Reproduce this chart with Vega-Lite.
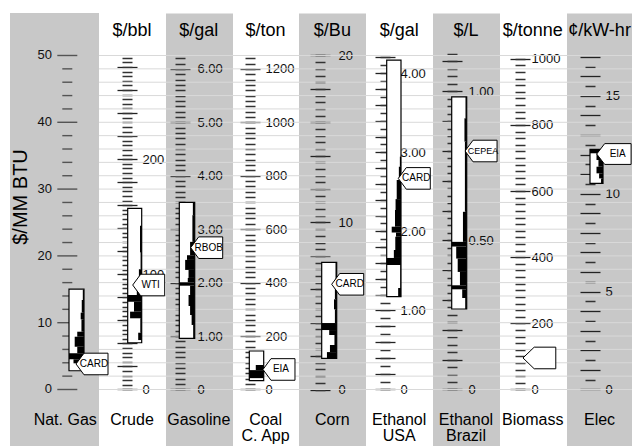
{
"$schema":"https://vega.github.io/schema/vega-lite/v6.json",
"background":"white",
"width":622,"height":433,
"autosize":"none",
"padding":{"left":10,"top":13,"right":0,"bottom":0},
"config":{"view":{"stroke":null},"font":"Liberation Sans"},
"datasets":{
"cols":[
{"idx":0,"id":"natgas","head":"","name1":"Nat. Gas","name2":"","ytitle":"$/MM BTU"},
{"idx":1,"id":"crude","head":"$/bbl","name1":"Crude","name2":""},
{"idx":2,"id":"gasoline","head":"$/gal","name1":"Gasoline","name2":""},
{"idx":3,"id":"coal","head":"$/ton","name1":"Coal","name2":"C. App"},
{"idx":4,"id":"corn","head":"$/Bu","name1":"Corn","name2":""},
{"idx":5,"id":"ethusa","head":"$/gal","name1":"Ethanol","name2":"USA"},
{"idx":6,"id":"ethbra","head":"$/L","name1":"Ethanol","name2":"Brazil"},
{"idx":7,"id":"biomass","head":"$/tonne","name1":"Biomass","name2":""},
{"idx":8,"id":"elec","head":"¢/kW-hr","name1":"Elec","name2":""}
],
"ngticks":[{"v":0},{"v":2},{"v":4},{"v":6},{"v":8},{"v":10},{"v":12},{"v":14},{"v":16},{"v":18},{"v":20},{"v":22},{"v":24},{"v":26},{"v":28},{"v":30},{"v":32},{"v":34},{"v":36},{"v":38},{"v":40},{"v":42},{"v":44},{"v":46},{"v":48},{"v":50}],
"boxes":[
{"id":"natgas","lo":2.81,"hi":15.04},
{"id":"crude","lo":7.0,"hi":27.1},
{"id":"gasoline","lo":7.66,"hi":28.0},
{"id":"coal","lo":1.32,"hi":5.76},
{"id":"corn","lo":4.67,"hi":19.04},
{"id":"ethusa","lo":13.9,"hi":49.3},
{"id":"ethbra","lo":12.05,"hi":43.8},
{"id":"elec","lo":30.87,"hi":35.96}
],
"hist":[
{"id":"natgas","y0":13.4,"y1":14.9,"w":0.08},{"id":"natgas","y0":11.5,"y1":13.4,"w":0.15},{"id":"natgas","y0":10.5,"y1":11.5,"w":0.22},{"id":"natgas","y0":8.65,"y1":10.5,"w":0.17},{"id":"natgas","y0":7.9,"y1":8.65,"w":0.45},{"id":"natgas","y0":6.4,"y1":7.9,"w":0.62},{"id":"natgas","y0":5.42,"y1":6.4,"w":0.45},{"id":"natgas","y0":4.52,"y1":5.42,"w":1.0},{"id":"natgas","y0":3.92,"y1":4.52,"w":0.7},
{"id":"crude","y0":20.5,"y1":24.5,"w":0.12},{"id":"crude","y0":18.0,"y1":20.5,"w":0.08},{"id":"crude","y0":16.2,"y1":18.0,"w":0.2},{"id":"crude","y0":14.15,"y1":16.2,"w":0.35},{"id":"crude","y0":13.15,"y1":14.15,"w":1.0},{"id":"crude","y0":11.65,"y1":13.15,"w":0.55},{"id":"crude","y0":10.66,"y1":11.65,"w":0.83},{"id":"crude","y0":8.5,"y1":10.66,"w":0.1},{"id":"crude","y0":7.4,"y1":8.5,"w":0.25},
{"id":"gasoline","y0":26.1,"y1":28.0,"w":0.12},{"id":"gasoline","y0":22.1,"y1":26.1,"w":0.15},{"id":"gasoline","y0":20.1,"y1":22.1,"w":0.3},{"id":"gasoline","y0":19.4,"y1":20.1,"w":0.5},{"id":"gasoline","y0":17.9,"y1":19.4,"w":0.62},{"id":"gasoline","y0":16.7,"y1":17.9,"w":0.4},{"id":"gasoline","y0":16.05,"y1":16.7,"w":0.45},{"id":"gasoline","y0":15.54,"y1":16.05,"w":1.0},{"id":"gasoline","y0":14.15,"y1":15.54,"w":0.3},{"id":"gasoline","y0":12.5,"y1":14.15,"w":0.4},{"id":"gasoline","y0":11.15,"y1":12.5,"w":0.3},{"id":"gasoline","y0":9.66,"y1":11.15,"w":0.2},{"id":"gasoline","y0":7.66,"y1":9.66,"w":0.1},
{"id":"coal","y0":2.9,"y1":3.67,"w":0.55},{"id":"coal","y0":1.7,"y1":2.9,"w":1.0},
{"id":"corn","y0":15.9,"y1":19.04,"w":0.08},{"id":"corn","y0":13.5,"y1":15.9,"w":0.12},{"id":"corn","y0":12.0,"y1":13.5,"w":0.18},{"id":"corn","y0":9.95,"y1":12.0,"w":0.12},{"id":"corn","y0":8.9,"y1":9.95,"w":1.0},{"id":"corn","y0":8.16,"y1":8.9,"w":0.5},{"id":"corn","y0":6.66,"y1":8.16,"w":0.15},{"id":"corn","y0":5.6,"y1":6.66,"w":0.45},{"id":"corn","y0":4.67,"y1":5.6,"w":0.65},
{"id":"ethusa","y0":33.35,"y1":34.85,"w":0.08},{"id":"ethusa","y0":31.36,"y1":33.35,"w":0.15},{"id":"ethusa","y0":28.5,"y1":31.36,"w":0.3},{"id":"ethusa","y0":26.87,"y1":28.5,"w":0.38},{"id":"ethusa","y0":24.37,"y1":26.87,"w":0.42},{"id":"ethusa","y0":23.5,"y1":24.37,"w":0.65},{"id":"ethusa","y0":22.87,"y1":23.5,"w":0.35},{"id":"ethusa","y0":20.88,"y1":22.87,"w":0.4},{"id":"ethusa","y0":19.69,"y1":20.88,"w":0.5},{"id":"ethusa","y0":18.64,"y1":19.69,"w":1.0},{"id":"ethusa","y0":15.19,"y1":18.64,"w":0.05},{"id":"ethusa","y0":13.9,"y1":15.19,"w":0.2},
{"id":"ethbra","y0":40.6,"y1":43.8,"w":0.08},{"id":"ethbra","y0":37.1,"y1":40.6,"w":0.15},{"id":"ethbra","y0":35.1,"y1":37.1,"w":0.12},{"id":"ethbra","y0":26.6,"y1":35.1,"w":0.12},{"id":"ethbra","y0":22.1,"y1":26.6,"w":0.25},{"id":"ethbra","y0":21.4,"y1":22.1,"w":1.0},{"id":"ethbra","y0":19.6,"y1":21.4,"w":0.7},{"id":"ethbra","y0":17.6,"y1":19.6,"w":0.6},{"id":"ethbra","y0":15.6,"y1":17.6,"w":0.45},{"id":"ethbra","y0":15.0,"y1":15.6,"w":1.0},{"id":"ethbra","y0":13.7,"y1":15.0,"w":0.3},{"id":"ethbra","y0":12.05,"y1":13.7,"w":0.1},
{"id":"elec","y0":35.36,"y1":35.96,"w":1.0},{"id":"elec","y0":34.35,"y1":35.36,"w":0.5},{"id":"elec","y0":33.35,"y1":34.35,"w":0.35},{"id":"elec","y0":32.36,"y1":33.35,"w":0.5},{"id":"elec","y0":31.6,"y1":32.36,"w":0.3},{"id":"elec","y0":30.87,"y1":31.6,"w":0.15}
],
"callouts":[
{"id":"natgas","y":3.82,"label":"CARD"},
{"id":"crude","y":15.64,"label":"WTI"},
{"id":"gasoline","y":21.23,"label":"RBOB"},
{"id":"coal","y":3.0,"label":"EIA"},
{"id":"corn","y":15.75,"label":"CARD"},
{"id":"ethusa","y":31.6,"label":"CARD"},
{"id":"ethbra","y":35.7,"label":"CEPEA"},
{"id":"biomass","y":4.72,"label":""},
{"id":"elec","y":35.25,"label":"EIA"}
]
},
"layer":[
{"data":{"name":"cols"},"transform":[{"filter":"datum.idx==0"}],"mark":{"type":"point","opacity":0},
"encoding":{
"x":{"datum":0,"type":"quantitative","scale":{"domain":[-0.8266,8.486],"nice":false,"zero":false},"axis":{"orient":"bottom","values":[2,4,6,8],"grid":true,"gridWidth":67,"gridColor":"#c8c8c8","gridCap":"butt","ticks":false,"labels":false,"domain":false,"title":null}},
"y":{"datum":0,"type":"quantitative","scale":{"domain":[-8.458,56.36],"nice":false,"zero":false},"axis":null}}},
{"data":{"name":"ngticks"},"mark":{"type":"rule","color":"#d9d9d9","strokeWidth":1},
"encoding":{"y":{"field":"v","type":"quantitative","scale":{"domain":[-8.458,56.36],"nice":false,"zero":false},"axis":null}}},
{"data":{"name":"cols"},"transform":[{"filter":"datum.idx==0"}],"mark":{"type":"rect","fill":"#c8c8c8"},
"encoding":{"x":{"datum":4.9333,"type":"quantitative","scale":{"domain":[-36.533,4.9333],"reverse":true,"nice":false,"zero":false},"axis":null},"x2":{"datum":-1.0},"y":{"datum":-8.458,"type":"quantitative","scale":{"domain":[-8.458,56.36],"nice":false,"zero":false},"axis":null},"y2":{"datum":56.36}}},
{"data":{"name":"ngticks"},"mark":{"type":"tick","orient":"horizontal","thickness":1.4,"color":"#222"},
"encoding":{"x":{"datum":1.113,"type":"quantitative","scale":{"domain":[-36.533,4.9333],"reverse":true,"nice":false,"zero":false},"axis":null},"y":{"field":"v","type":"quantitative","scale":{"domain":[-8.458,56.36],"nice":false,"zero":false},"axis":null},"size":{"condition":{"test":"datum.v % 10 == 0","value":20},"value":10}}},
{"data":{"name":"ngticks"},"transform":[{"filter":"datum.v % 10 == 0"}],"mark":{"type":"text","fontSize":13,"align":"right","baseline":"middle","color":"#111"},
"encoding":{"x":{"datum":2.133,"type":"quantitative","scale":{"domain":[-36.533,4.9333],"reverse":true,"nice":false,"zero":false},"axis":null},"y":{"field":"v","type":"quantitative","scale":{"domain":[-8.458,56.36],"nice":false,"zero":false},"axis":null},"text":{"field":"v"}}},
{"data":{"name":"cols"},"transform":[{"filter":"datum.idx==0"}],"mark":{"type":"text","fontSize":20,"angle":270,"baseline":"middle","align":"center"},
"encoding":{"x":{"datum":4.2,"type":"quantitative","scale":{"domain":[-36.533,4.9333],"reverse":true,"nice":false,"zero":false},"axis":null},"y":{"datum":28.82,"type":"quantitative","scale":{"domain":[-8.458,56.36],"nice":false,"zero":false},"axis":null},"text":{"field":"ytitle"}}},

{"data":{"name":"cols"},"transform":[{"filter":"datum.idx==1"}],"mark":{"type":"point","opacity":0},
"encoding":{"y":{"datum":0,"type":"quantitative","scale":{"domain":[-49.06,326.89],"nice":false,"zero":false},
"axis":{"orient":"right","offset":-515,"values":[0,20,40,60,80,100,120,140,160,180,200,220,240,260,280],"format":"d","labelExpr":"datum.value % 100 === 0 ? datum.label : ''","tickSize":20,"tickWidth":1.3,"tickColor":"#222","labelPadding":5,"labelFontSize":13,"labelColor":"#111","labelOverlap":false,"labelFlush":false,"labelBound":false,"domain":false,"grid":false,"title":null}}}},
{"data":{"name":"cols"},"transform":[{"filter":"datum.idx==1"}],"mark":{"type":"point","opacity":0},
"encoding":{"y":{"datum":0,"type":"quantitative","scale":{"domain":[-49.06,326.89],"nice":false,"zero":false},
"axis":{"orient":"right","offset":-510,"values":[0,4,8,12,16,20,24,28,32,36,40,44,48,52,56,60,64,68,72,76,80,84,88,92,96,100,104,108,112,116,120,124,128,132,136,140,144,148,152,156,160,164,168,172,176,180,184,188,192,196,200,204,208,212,216,220,224,228,232,236,240,244,248,252,256,260,264,268,272,276,280,284,288],"tickSize":10,"tickWidth":1.5,"tickColor":"#333","labels":false,"domain":false,"grid":false,"title":null}}}},

{"data":{"name":"cols"},"transform":[{"filter":"datum.idx==2"}],"mark":{"type":"point","opacity":0},
"encoding":{"y":{"datum":0,"type":"quantitative","scale":{"domain":[-1.0573,7.045],"nice":false,"zero":false},
"axis":{"orient":"right","offset":-462,"values":[0,1,2,3,4,5,6],"labelExpr":"datum.value == 0 ? '0' : format(datum.value, '.2f')","tickSize":20,"tickWidth":1.3,"tickColor":"#222","labelPadding":7,"labelFontSize":13,"labelColor":"#111","labelOverlap":false,"labelFlush":false,"labelBound":false,"domain":false,"grid":false,"title":null}}}},
{"data":{"name":"cols"},"transform":[{"filter":"datum.idx==2"}],"mark":{"type":"point","opacity":0},
"encoding":{"y":{"datum":0,"type":"quantitative","scale":{"domain":[-1.0573,7.045],"nice":false,"zero":false},
"axis":{"orient":"right","offset":-457,"values":[0,0.1,0.2,0.3,0.4,0.5,0.6,0.7,0.8,0.9,1,1.1,1.2,1.3,1.4,1.5,1.6,1.7,1.8,1.9,2,2.1,2.2,2.3,2.4,2.5,2.6,2.7,2.8,2.9,3,3.1,3.2,3.3,3.4,3.5,3.6,3.7,3.8,3.9,4,4.1,4.2,4.3,4.4,4.5,4.6,4.7,4.8,4.9,5,5.1,5.2,5.3,5.4,5.5,5.6,5.7,5.8,5.9,6,6.1,6.2],"tickSize":10,"tickWidth":1.5,"tickColor":"#333","labels":false,"domain":false,"grid":false,"title":null}}}},

{"data":{"name":"cols"},"transform":[{"filter":"datum.idx==3"}],"mark":{"type":"point","opacity":0},
"encoding":{"y":{"datum":0,"type":"quantitative","scale":{"domain":[-211.45,1409.0],"nice":false,"zero":false},
"axis":{"orient":"right","offset":-392,"values":[0,200,400,600,800,1000,1200],"format":"d","tickSize":20,"tickWidth":1.3,"tickColor":"#222","labelPadding":5,"labelFontSize":13,"labelColor":"#111","labelOverlap":false,"labelFlush":false,"labelBound":false,"domain":false,"grid":false,"title":null}}}},
{"data":{"name":"cols"},"transform":[{"filter":"datum.idx==3"}],"mark":{"type":"point","opacity":0},
"encoding":{"y":{"datum":0,"type":"quantitative","scale":{"domain":[-211.45,1409.0],"nice":false,"zero":false},
"axis":{"orient":"right","offset":-387,"values":[0,20,40,60,80,100,120,140,160,180,200,220,240,260,280,300,320,340,360,380,400,420,440,460,480,500,520,540,560,580,600,620,640,660,680,700,720,740,760,780,800,820,840,860,880,900,920,940,960,980,1000,1020,1040,1060,1080,1100,1120,1140,1160,1180,1200,1220,1240],"tickSize":10,"tickWidth":1.5,"tickColor":"#333","labels":false,"domain":false,"grid":false,"title":null}}}},

{"data":{"name":"cols"},"transform":[{"filter":"datum.idx==4"}],"mark":{"type":"point","opacity":0},
"encoding":{"y":{"datum":0,"type":"quantitative","scale":{"domain":[-3.383,22.544],"nice":false,"zero":false},
"axis":{"orient":"right","offset":-322,"values":[0,2,4,6,8,10,12,14,16,18,20],"labelExpr":"datum.value % 10 === 0 ? datum.label : ''","tickSize":20,"tickWidth":1.3,"tickColor":"#222","labelPadding":8,"labelFontSize":13,"labelColor":"#111","labelOverlap":false,"labelFlush":false,"labelBound":false,"domain":false,"grid":false,"title":null}}}},
{"data":{"name":"cols"},"transform":[{"filter":"datum.idx==4"}],"mark":{"type":"point","opacity":0},
"encoding":{"y":{"datum":0,"type":"quantitative","scale":{"domain":[-3.383,22.544],"nice":false,"zero":false},
"axis":{"orient":"right","offset":-317,"values":[0,0.4,0.8,1.2,1.6,2,2.4,2.8,3.2,3.6,4,4.4,4.8,5.2,5.6,6,6.4,6.8,7.2,7.6,8,8.4,8.8,9.2,9.6,10,10.4,10.8,11.2,11.6,12,12.4,12.8,13.2,13.6,14,14.4,14.8,15.2,15.6,16,16.4,16.8,17.2,17.6,18,18.4,18.8,19.2,19.6,20],"tickSize":10,"tickWidth":1.5,"tickColor":"#333","labels":false,"domain":false,"grid":false,"title":null}}}},

{"data":{"name":"cols"},"transform":[{"filter":"datum.idx==5"}],"mark":{"type":"point","opacity":0},
"encoding":{"y":{"datum":0,"type":"quantitative","scale":{"domain":[-0.7147,4.7624],"nice":false,"zero":false},
"axis":{"orient":"right","offset":-257,"values":[0,0.2,0.4,0.6,0.8,1,1.2,1.4,1.6,1.8,2,2.2,2.4,2.6,2.8,3,3.2,3.4,3.6,3.8,4,4.2],"labelExpr":"datum.value == 0 ? '0' : (datum.value == 1 || datum.value == 2 || datum.value == 3 || datum.value == 4 ? format(datum.value, '.2f') : '')","tickSize":20,"tickWidth":1.3,"tickColor":"#222","labelPadding":5,"labelFontSize":13,"labelColor":"#111","labelOverlap":false,"labelFlush":false,"labelBound":false,"domain":false,"grid":false,"title":null}}}},
{"data":{"name":"cols"},"transform":[{"filter":"datum.idx==5"}],"mark":{"type":"point","opacity":0},
"encoding":{"y":{"datum":0,"type":"quantitative","scale":{"domain":[-0.7147,4.7624],"nice":false,"zero":false},
"axis":{"orient":"right","offset":-252,"values":[0,0.1,0.2,0.3,0.4,0.5,0.6,0.7,0.8,0.9,1,1.1,1.2,1.3,1.4,1.5,1.6,1.7,1.8,1.9,2,2.1,2.2,2.3,2.4,2.5,2.6,2.7,2.8,2.9,3,3.1,3.2,3.3,3.4,3.5,3.6,3.7,3.8,3.9,4,4.1,4.2],"tickSize":10,"tickWidth":1.5,"tickColor":"#333","labels":false,"domain":false,"grid":false,"title":null}}}},

{"data":{"name":"cols"},"transform":[{"filter":"datum.idx==6"}],"mark":{"type":"point","opacity":0},
"encoding":{"y":{"datum":0,"type":"quantitative","scale":{"domain":[-0.18946,1.26246],"nice":false,"zero":false},
"axis":{"orient":"right","offset":-190,"values":[0,0.1,0.2,0.3,0.4,0.5,0.6,0.7,0.8,0.9,1,1.1],"labelExpr":"datum.value == 0 ? '0' : (datum.value == 0.5 || datum.value == 1 ? format(datum.value, '.2f') : '')","tickSize":20,"tickWidth":1.3,"tickColor":"#222","labelPadding":6,"labelFontSize":13,"labelColor":"#111","labelOverlap":false,"labelFlush":false,"labelBound":false,"domain":false,"grid":false,"title":null}}}},
{"data":{"name":"cols"},"transform":[{"filter":"datum.idx==6"}],"mark":{"type":"point","opacity":0},
"encoding":{"y":{"datum":0,"type":"quantitative","scale":{"domain":[-0.18946,1.26246],"nice":false,"zero":false},
"axis":{"orient":"right","offset":-185,"values":[0,0.025,0.05,0.075,0.1,0.125,0.15,0.175,0.2,0.225,0.25,0.275,0.3,0.325,0.35,0.375,0.4,0.425,0.45,0.475,0.5,0.525,0.55,0.575,0.6,0.625,0.65,0.675,0.7,0.725,0.75,0.775,0.8,0.825,0.85,0.875,0.9,0.925,0.95,0.975,1,1.025,1.05,1.075,1.1,1.125],"tickSize":10,"tickWidth":1.5,"tickColor":"#333","labels":false,"domain":false,"grid":false,"title":null}}}},

{"data":{"name":"cols"},"transform":[{"filter":"datum.idx==7"}],"mark":{"type":"point","opacity":0},
"encoding":{"y":{"datum":0,"type":"quantitative","scale":{"domain":[-170.85,1138.47],"nice":false,"zero":false},
"axis":{"orient":"right","offset":-122,"values":[0,200,400,600,800,1000],"format":"d","tickSize":20,"tickWidth":1.3,"tickColor":"#222","labelPadding":1,"labelFontSize":13,"labelColor":"#111","labelOverlap":false,"labelFlush":false,"labelBound":false,"domain":false,"grid":false,"title":null}}}},
{"data":{"name":"cols"},"transform":[{"filter":"datum.idx==7"}],"mark":{"type":"point","opacity":0},
"encoding":{"y":{"datum":0,"type":"quantitative","scale":{"domain":[-170.85,1138.47],"nice":false,"zero":false},
"axis":{"orient":"right","offset":-117,"values":[0,20,40,60,80,100,120,140,160,180,200,220,240,260,280,300,320,340,360,380,400,420,440,460,480,500,520,540,560,580,600,620,640,660,680,700,720,740,760,780,800,820,840,860,880,900,920,940,960,980,1000],"tickSize":10,"tickWidth":1.5,"tickColor":"#333","labels":false,"domain":false,"grid":false,"title":null}}}},

{"data":{"name":"cols"},"transform":[{"filter":"datum.idx==8"}],"mark":{"type":"point","opacity":0},
"encoding":{"y":{"datum":0,"type":"quantitative","scale":{"domain":[-2.8867,19.2357],"nice":false,"zero":false},
"axis":{"orient":"right","offset":-52,"values":[0,1,2,3,4,5,6,7,8,9,10,11,12,13,14,15,16,17],"labelExpr":"datum.value % 5 === 0 ? datum.label : ''","tickSize":20,"tickWidth":1.3,"tickColor":"#222","labelPadding":5,"labelFontSize":13,"labelColor":"#111","labelOverlap":false,"labelFlush":false,"labelBound":false,"domain":false,"grid":false,"title":null}}}},
{"data":{"name":"cols"},"transform":[{"filter":"datum.idx==8"}],"mark":{"type":"point","opacity":0},
"encoding":{"y":{"datum":0,"type":"quantitative","scale":{"domain":[-2.8867,19.2357],"nice":false,"zero":false},
"axis":{"orient":"right","offset":-47,"values":[0.5,1.5,2.5,3.5,4.5,5.5,6.5,7.5,8.5,9.5,10.5,11.5,12.5,13.5,14.5,15.5,16.5],"tickSize":10,"tickWidth":1.5,"tickColor":"#333","labels":false,"domain":false,"grid":false,"title":null}}}},

{"data":{"name":"boxes"},"transform":[{"filter":"datum.id=='natgas'"}],"mark":{"type":"rect","fill":"white","stroke":"black","strokeWidth":1.2},
"encoding":{"x":{"datum":0,"type":"quantitative","scale":{"domain":[-36.533,4.9333],"reverse":true,"nice":false,"zero":false},"axis":null},"x2":{"datum":1},"y":{"field":"lo","type":"quantitative","scale":{"domain":[-8.458,56.36],"nice":false,"zero":false},"axis":null},"y2":{"field":"hi"}}},
{"data":{"name":"hist"},"transform":[{"filter":"datum.id=='natgas'"}],"mark":{"type":"rect","fill":"black"},
"encoding":{"x":{"field":"w","type":"quantitative","scale":{"domain":[-36.533,4.9333],"reverse":true,"nice":false,"zero":false},"axis":null},"x2":{"datum":0},"y":{"field":"y0","type":"quantitative","scale":{"domain":[-8.458,56.36],"nice":false,"zero":false},"axis":null},"y2":{"field":"y1"}}},
{"data":{"name":"callouts"},"transform":[{"filter":"datum.id=='natgas'"}],"mark":{"type":"point","shape":"M0,0L1,-1.35L4,-1.35L4,1.35L1,1.35Z","size":256,"filled":true,"fill":"white","stroke":"black","strokeWidth":1,"opacity":1},
"encoding":{"x":{"datum":0.533,"type":"quantitative","scale":{"domain":[-36.533,4.9333],"reverse":true,"nice":false,"zero":false},"axis":null},"y":{"field":"y","type":"quantitative","scale":{"domain":[-8.458,56.36],"nice":false,"zero":false},"axis":null}}},
{"data":{"name":"callouts"},"transform":[{"filter":"datum.id=='natgas'"}],"mark":{"type":"text","fontSize":10,"dx":18,"align":"center","baseline":"middle"},
"encoding":{"x":{"datum":0.533,"type":"quantitative","scale":{"domain":[-36.533,4.9333],"reverse":true,"nice":false,"zero":false},"axis":null},"y":{"field":"y","type":"quantitative","scale":{"domain":[-8.458,56.36],"nice":false,"zero":false},"axis":null},"text":{"field":"label"}}},

{"data":{"name":"boxes"},"transform":[{"filter":"datum.id=='crude'"}],"mark":{"type":"rect","fill":"white","stroke":"black","strokeWidth":1.2},
"encoding":{"x":{"datum":0,"type":"quantitative","scale":{"domain":[-35.021,9.407],"reverse":true,"nice":false,"zero":false},"axis":null},"x2":{"datum":1},"y":{"field":"lo","type":"quantitative","scale":{"domain":[-8.458,56.36],"nice":false,"zero":false},"axis":null},"y2":{"field":"hi"}}},
{"data":{"name":"hist"},"transform":[{"filter":"datum.id=='crude'"}],"mark":{"type":"rect","fill":"black"},
"encoding":{"x":{"field":"w","type":"quantitative","scale":{"domain":[-35.021,9.407],"reverse":true,"nice":false,"zero":false},"axis":null},"x2":{"datum":0},"y":{"field":"y0","type":"quantitative","scale":{"domain":[-8.458,56.36],"nice":false,"zero":false},"axis":null},"y2":{"field":"y1"}}},
{"data":{"name":"callouts"},"transform":[{"filter":"datum.id=='crude'"}],"mark":{"type":"point","shape":"M0,0L1,-1.35L4,-1.35L4,1.35L1,1.35Z","size":256,"filled":true,"fill":"white","stroke":"black","strokeWidth":1,"opacity":1},
"encoding":{"x":{"datum":0.643,"type":"quantitative","scale":{"domain":[-35.021,9.407],"reverse":true,"nice":false,"zero":false},"axis":null},"y":{"field":"y","type":"quantitative","scale":{"domain":[-8.458,56.36],"nice":false,"zero":false},"axis":null}}},
{"data":{"name":"callouts"},"transform":[{"filter":"datum.id=='crude'"}],"mark":{"type":"text","fontSize":10,"dx":18,"align":"center","baseline":"middle"},
"encoding":{"x":{"datum":0.643,"type":"quantitative","scale":{"domain":[-35.021,9.407],"reverse":true,"nice":false,"zero":false},"axis":null},"y":{"field":"y","type":"quantitative","scale":{"domain":[-8.458,56.36],"nice":false,"zero":false},"axis":null},"text":{"field":"label"}}},

{"data":{"name":"boxes"},"transform":[{"filter":"datum.id=='gasoline'"}],"mark":{"type":"rect","fill":"white","stroke":"black","strokeWidth":1.2},
"encoding":{"x":{"datum":0,"type":"quantitative","scale":{"domain":[-28.396,11.994],"reverse":true,"nice":false,"zero":false},"axis":null},"x2":{"datum":1},"y":{"field":"lo","type":"quantitative","scale":{"domain":[-8.458,56.36],"nice":false,"zero":false},"axis":null},"y2":{"field":"hi"}}},
{"data":{"name":"hist"},"transform":[{"filter":"datum.id=='gasoline'"}],"mark":{"type":"rect","fill":"black"},
"encoding":{"x":{"field":"w","type":"quantitative","scale":{"domain":[-28.396,11.994],"reverse":true,"nice":false,"zero":false},"axis":null},"x2":{"datum":0},"y":{"field":"y0","type":"quantitative","scale":{"domain":[-8.458,56.36],"nice":false,"zero":false},"axis":null},"y2":{"field":"y1"}}},
{"data":{"name":"callouts"},"transform":[{"filter":"datum.id=='gasoline'"}],"mark":{"type":"point","shape":"M0,0L1,-1.35L4,-1.35L4,1.35L1,1.35Z","size":256,"filled":true,"fill":"white","stroke":"black","strokeWidth":1,"opacity":1},
"encoding":{"x":{"datum":0.26,"type":"quantitative","scale":{"domain":[-28.396,11.994],"reverse":true,"nice":false,"zero":false},"axis":null},"y":{"field":"y","type":"quantitative","scale":{"domain":[-8.458,56.36],"nice":false,"zero":false},"axis":null}}},
{"data":{"name":"callouts"},"transform":[{"filter":"datum.id=='gasoline'"}],"mark":{"type":"text","fontSize":10,"dx":18,"align":"center","baseline":"middle"},
"encoding":{"x":{"datum":0.26,"type":"quantitative","scale":{"domain":[-28.396,11.994],"reverse":true,"nice":false,"zero":false},"axis":null},"y":{"field":"y","type":"quantitative","scale":{"domain":[-8.458,56.36],"nice":false,"zero":false},"axis":null},"text":{"field":"label"}}},

{"data":{"name":"boxes"},"transform":[{"filter":"datum.id=='coal'"}],"mark":{"type":"rect","fill":"white","stroke":"black","strokeWidth":1.2},
"encoding":{"x":{"datum":0,"type":"quantitative","scale":{"domain":[-25.576,17.618],"reverse":true,"nice":false,"zero":false},"axis":null},"x2":{"datum":1},"y":{"field":"lo","type":"quantitative","scale":{"domain":[-8.458,56.36],"nice":false,"zero":false},"axis":null},"y2":{"field":"hi"}}},
{"data":{"name":"hist"},"transform":[{"filter":"datum.id=='coal'"}],"mark":{"type":"rect","fill":"black"},
"encoding":{"x":{"field":"w","type":"quantitative","scale":{"domain":[-25.576,17.618],"reverse":true,"nice":false,"zero":false},"axis":null},"x2":{"datum":0},"y":{"field":"y0","type":"quantitative","scale":{"domain":[-8.458,56.36],"nice":false,"zero":false},"axis":null},"y2":{"field":"y1"}}},
{"data":{"name":"callouts"},"transform":[{"filter":"datum.id=='coal'"}],"mark":{"type":"point","shape":"M0,0L1,-1.35L4,-1.35L4,1.35L1,1.35Z","size":256,"filled":true,"fill":"white","stroke":"black","strokeWidth":1,"opacity":1},
"encoding":{"x":{"datum":0.05,"type":"quantitative","scale":{"domain":[-25.576,17.618],"reverse":true,"nice":false,"zero":false},"axis":null},"y":{"field":"y","type":"quantitative","scale":{"domain":[-8.458,56.36],"nice":false,"zero":false},"axis":null}}},
{"data":{"name":"callouts"},"transform":[{"filter":"datum.id=='coal'"}],"mark":{"type":"text","fontSize":10,"dx":18,"align":"center","baseline":"middle"},
"encoding":{"x":{"datum":0.05,"type":"quantitative","scale":{"domain":[-25.576,17.618],"reverse":true,"nice":false,"zero":false},"axis":null},"y":{"field":"y","type":"quantitative","scale":{"domain":[-8.458,56.36],"nice":false,"zero":false},"axis":null},"text":{"field":"label"}}},

{"data":{"name":"boxes"},"transform":[{"filter":"datum.id=='corn'"}],"mark":{"type":"rect","fill":"white","stroke":"black","strokeWidth":1.2},
"encoding":{"x":{"datum":0,"type":"quantitative","scale":{"domain":[-19.687,21.78],"reverse":true,"nice":false,"zero":false},"axis":null},"x2":{"datum":1},"y":{"field":"lo","type":"quantitative","scale":{"domain":[-8.458,56.36],"nice":false,"zero":false},"axis":null},"y2":{"field":"hi"}}},
{"data":{"name":"hist"},"transform":[{"filter":"datum.id=='corn'"}],"mark":{"type":"rect","fill":"black"},
"encoding":{"x":{"field":"w","type":"quantitative","scale":{"domain":[-19.687,21.78],"reverse":true,"nice":false,"zero":false},"axis":null},"x2":{"datum":0},"y":{"field":"y0","type":"quantitative","scale":{"domain":[-8.458,56.36],"nice":false,"zero":false},"axis":null},"y2":{"field":"y1"}}},
{"data":{"name":"callouts"},"transform":[{"filter":"datum.id=='corn'"}],"mark":{"type":"point","shape":"M0,0L1,-1.35L4,-1.35L4,1.35L1,1.35Z","size":256,"filled":true,"fill":"white","stroke":"black","strokeWidth":1,"opacity":1},
"encoding":{"x":{"datum":0.333,"type":"quantitative","scale":{"domain":[-19.687,21.78],"reverse":true,"nice":false,"zero":false},"axis":null},"y":{"field":"y","type":"quantitative","scale":{"domain":[-8.458,56.36],"nice":false,"zero":false},"axis":null}}},
{"data":{"name":"callouts"},"transform":[{"filter":"datum.id=='corn'"}],"mark":{"type":"text","fontSize":10,"dx":18,"align":"center","baseline":"middle"},
"encoding":{"x":{"datum":0.333,"type":"quantitative","scale":{"domain":[-19.687,21.78],"reverse":true,"nice":false,"zero":false},"axis":null},"y":{"field":"y","type":"quantitative","scale":{"domain":[-8.458,56.36],"nice":false,"zero":false},"axis":null},"text":{"field":"label"}}},

{"data":{"name":"boxes"},"transform":[{"filter":"datum.id=='ethusa'"}],"mark":{"type":"rect","fill":"white","stroke":"black","strokeWidth":1.2},
"encoding":{"x":{"datum":0,"type":"quantitative","scale":{"domain":[-16.154,27.343],"reverse":true,"nice":false,"zero":false},"axis":null},"x2":{"datum":1},"y":{"field":"lo","type":"quantitative","scale":{"domain":[-8.458,56.36],"nice":false,"zero":false},"axis":null},"y2":{"field":"hi"}}},
{"data":{"name":"hist"},"transform":[{"filter":"datum.id=='ethusa'"}],"mark":{"type":"rect","fill":"black"},
"encoding":{"x":{"field":"w","type":"quantitative","scale":{"domain":[-16.154,27.343],"reverse":true,"nice":false,"zero":false},"axis":null},"x2":{"datum":0},"y":{"field":"y0","type":"quantitative","scale":{"domain":[-8.458,56.36],"nice":false,"zero":false},"axis":null},"y2":{"field":"y1"}}},
{"data":{"name":"callouts"},"transform":[{"filter":"datum.id=='ethusa'"}],"mark":{"type":"point","shape":"M0,0L1,-1.35L4,-1.35L4,1.35L1,1.35Z","size":256,"filled":true,"fill":"white","stroke":"black","strokeWidth":1,"opacity":1},
"encoding":{"x":{"datum":0.19,"type":"quantitative","scale":{"domain":[-16.154,27.343],"reverse":true,"nice":false,"zero":false},"axis":null},"y":{"field":"y","type":"quantitative","scale":{"domain":[-8.458,56.36],"nice":false,"zero":false},"axis":null}}},
{"data":{"name":"callouts"},"transform":[{"filter":"datum.id=='ethusa'"}],"mark":{"type":"text","fontSize":10,"dx":18,"align":"center","baseline":"middle"},
"encoding":{"x":{"datum":0.19,"type":"quantitative","scale":{"domain":[-16.154,27.343],"reverse":true,"nice":false,"zero":false},"axis":null},"y":{"field":"y","type":"quantitative","scale":{"domain":[-8.458,56.36],"nice":false,"zero":false},"axis":null},"text":{"field":"label"}}},

{"data":{"name":"boxes"},"transform":[{"filter":"datum.id=='ethbra'"}],"mark":{"type":"rect","fill":"white","stroke":"black","strokeWidth":1.2},
"encoding":{"x":{"datum":0,"type":"quantitative","scale":{"domain":[-11.02,30.447],"reverse":true,"nice":false,"zero":false},"axis":null},"x2":{"datum":1},"y":{"field":"lo","type":"quantitative","scale":{"domain":[-8.458,56.36],"nice":false,"zero":false},"axis":null},"y2":{"field":"hi"}}},
{"data":{"name":"hist"},"transform":[{"filter":"datum.id=='ethbra'"}],"mark":{"type":"rect","fill":"black"},
"encoding":{"x":{"field":"w","type":"quantitative","scale":{"domain":[-11.02,30.447],"reverse":true,"nice":false,"zero":false},"axis":null},"x2":{"datum":0},"y":{"field":"y0","type":"quantitative","scale":{"domain":[-8.458,56.36],"nice":false,"zero":false},"axis":null},"y2":{"field":"y1"}}},
{"data":{"name":"callouts"},"transform":[{"filter":"datum.id=='ethbra'"}],"mark":{"type":"point","shape":"M0,0L1,-1.35L4,-1.35L4,1.35L1,1.35Z","size":256,"filled":true,"fill":"white","stroke":"black","strokeWidth":1,"opacity":1},
"encoding":{"x":{"datum":0.11,"type":"quantitative","scale":{"domain":[-11.02,30.447],"reverse":true,"nice":false,"zero":false},"axis":null},"y":{"field":"y","type":"quantitative","scale":{"domain":[-8.458,56.36],"nice":false,"zero":false},"axis":null}}},
{"data":{"name":"callouts"},"transform":[{"filter":"datum.id=='ethbra'"}],"mark":{"type":"text","fontSize":9,"dx":18,"align":"center","baseline":"middle"},
"encoding":{"x":{"datum":0.11,"type":"quantitative","scale":{"domain":[-11.02,30.447],"reverse":true,"nice":false,"zero":false},"axis":null},"y":{"field":"y","type":"quantitative","scale":{"domain":[-8.458,56.36],"nice":false,"zero":false},"axis":null},"text":{"field":"label"}}},

{"data":{"name":"callouts"},"transform":[{"filter":"datum.id=='biomass'"}],"mark":{"type":"point","shape":"M0,0L1.4,-1.35L4.1,-1.35L4.1,1.35L1.4,1.35Z","size":256,"filled":true,"fill":"white","stroke":"black","strokeWidth":1,"opacity":1},
"encoding":{"x":{"datum":0.8,"type":"quantitative","scale":{"domain":[-6.467,35],"reverse":true,"nice":false,"zero":false},"axis":null},"y":{"field":"y","type":"quantitative","scale":{"domain":[-8.458,56.36],"nice":false,"zero":false},"axis":null}}},

{"data":{"name":"boxes"},"transform":[{"filter":"datum.id=='elec'"}],"mark":{"type":"rect","fill":"white","stroke":"black","strokeWidth":1.2},
"encoding":{"x":{"datum":0,"type":"quantitative","scale":{"domain":[-2.2308,45.615],"reverse":true,"nice":false,"zero":false},"axis":null},"x2":{"datum":1},"y":{"field":"lo","type":"quantitative","scale":{"domain":[-8.458,56.36],"nice":false,"zero":false},"axis":null},"y2":{"field":"hi"}}},
{"data":{"name":"hist"},"transform":[{"filter":"datum.id=='elec'"}],"mark":{"type":"rect","fill":"black"},
"encoding":{"x":{"field":"w","type":"quantitative","scale":{"domain":[-2.2308,45.615],"reverse":true,"nice":false,"zero":false},"axis":null},"x2":{"datum":0},"y":{"field":"y0","type":"quantitative","scale":{"domain":[-8.458,56.36],"nice":false,"zero":false},"axis":null},"y2":{"field":"y1"}}},
{"data":{"name":"callouts"},"transform":[{"filter":"datum.id=='elec'"}],"mark":{"type":"point","shape":"M0,0L1,-1.3L4.3,-1.3L4.3,1.3L1,1.3Z","size":256,"filled":true,"fill":"white","stroke":"black","strokeWidth":1,"opacity":1},
"encoding":{"x":{"datum":0.485,"type":"quantitative","scale":{"domain":[-2.2308,45.615],"reverse":true,"nice":false,"zero":false},"axis":null},"y":{"field":"y","type":"quantitative","scale":{"domain":[-8.458,56.36],"nice":false,"zero":false},"axis":null}}},
{"data":{"name":"callouts"},"transform":[{"filter":"datum.id=='elec'"}],"mark":{"type":"text","fontSize":10,"dx":21,"align":"center","baseline":"middle"},
"encoding":{"x":{"datum":0.485,"type":"quantitative","scale":{"domain":[-2.2308,45.615],"reverse":true,"nice":false,"zero":false},"axis":null},"y":{"field":"y","type":"quantitative","scale":{"domain":[-8.458,56.36],"nice":false,"zero":false},"axis":null},"text":{"field":"label"}}},

{"data":{"name":"cols"},"mark":{"type":"text","fontSize":18,"baseline":"alphabetic","align":"center"},
"encoding":{"x":{"field":"idx","type":"quantitative","scale":{"domain":[-0.8266,8.486],"nice":false,"zero":false},"axis":null},"y":{"datum":52.92,"type":"quantitative","scale":{"domain":[-8.458,56.36],"nice":false,"zero":false},"axis":null},"text":{"field":"head"}}},
{"data":{"name":"cols"},"mark":{"type":"text","fontSize":16,"baseline":"alphabetic","align":"center"},
"encoding":{"x":{"field":"idx","type":"quantitative","scale":{"domain":[-0.8266,8.486],"nice":false,"zero":false},"axis":null},"y":{"datum":-5.24,"type":"quantitative","scale":{"domain":[-8.458,56.36],"nice":false,"zero":false},"axis":null},"text":{"field":"name1"}}},
{"data":{"name":"cols"},"mark":{"type":"text","fontSize":16,"baseline":"alphabetic","align":"center"},
"encoding":{"x":{"field":"idx","type":"quantitative","scale":{"domain":[-0.8266,8.486],"nice":false,"zero":false},"axis":null},"y":{"datum":-7.71,"type":"quantitative","scale":{"domain":[-8.458,56.36],"nice":false,"zero":false},"axis":null},"text":{"field":"name2"}}}
],
"resolve":{"scale":{"x":"independent","y":"independent"},"axis":{"x":"independent","y":"independent"}}
}
